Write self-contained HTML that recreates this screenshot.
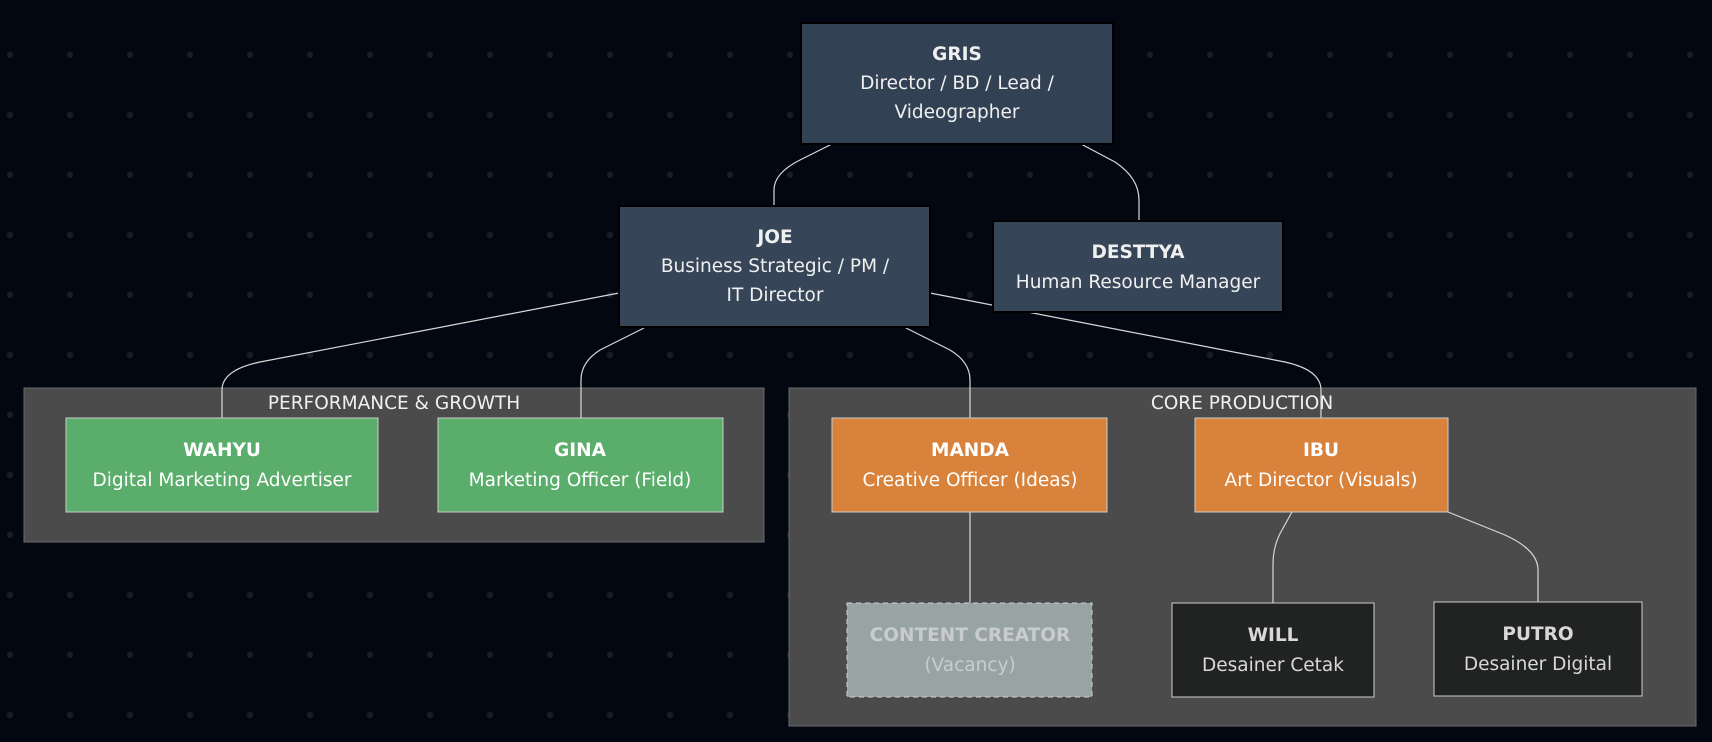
<!DOCTYPE html>
<html><head><meta charset="utf-8"><style>
html,body{margin:0;padding:0;background:#030712;}
svg{display:block}
text{font-family:"DejaVu Sans","Liberation Sans",sans-serif;font-size:18.5px;text-anchor:middle;}
.b{font-weight:bold}
</style></head><body>
<svg width="1712" height="742" viewBox="0 0 1712 742" xmlns="http://www.w3.org/2000/svg">
<defs><pattern id="d" x="0" y="0" width="60" height="60" patternUnits="userSpaceOnUse"><circle cx="10" cy="55" r="3.2" fill="#1a1d27"/></pattern></defs>
<rect width="1712" height="742" fill="#030712"/>
<rect width="1712" height="742" fill="url(#d)"/>
<rect x="24" y="388" width="740" height="154" fill="#4a4b4a" stroke="#6a6a6a"/>
<text x="394" y="409" fill="#f0f0f0">PERFORMANCE &amp; GROWTH</text>
<rect x="789" y="388" width="907" height="338" fill="#4a4b4a" stroke="#6a6a6a"/>
<text x="1242" y="409" fill="#f0f0f0">CORE PRODUCTION</text>
<g fill="none" stroke="#d8d8d8" stroke-width="1.2">
<path d="M832,144 L800,160 Q774,173 774,190 L774,206"/>
<path d="M1081,144 L1115,162 Q1139,178 1139,200 L1139,221"/>
<path d="M619,293 L260,362 Q222,370 222,390 L222,418"/>
<path d="M644,328 L600,350 Q581,362 581,380 L581,418"/>
<path d="M906,328 L950,350 Q970,362 970,380 L970,418"/>
<path d="M930,293 L1285,362 Q1321,370 1321,390 L1321,418"/>
<path d="M970,512 L970,603"/>
<path d="M1292,512 L1282,530 Q1273,545 1273,565 L1273,603"/>
<path d="M1448,512 L1505,535 Q1538,550 1538,570 L1538,603"/>
</g>
<rect x="801" y="23" width="312" height="121" fill="#334155" stroke="#000" stroke-width="2"/>
<text x="957" y="60" fill="#f0f0f0" class="b">GRIS</text>
<text x="957" y="89" fill="#f0f0f0">Director / BD / Lead /</text>
<text x="957" y="118" fill="#f0f0f0">Videographer</text>
<rect x="619" y="206" width="311" height="121" fill="#374558" stroke="#000" stroke-width="2"/>
<text x="775" y="243" fill="#f0f0f0" class="b">JOE</text>
<text x="775" y="272" fill="#f0f0f0">Business Strategic / PM /</text>
<text x="775" y="301" fill="#f0f0f0">IT Director</text>
<rect x="993" y="221" width="290" height="91" fill="#374558" stroke="#000" stroke-width="2"/>
<text x="1138" y="258" fill="#f0f0f0" class="b">DESTTYA</text>
<text x="1138" y="288" fill="#f0f0f0">Human Resource Manager</text>
<rect x="66" y="418" width="312" height="94" fill="#5aad6a" stroke="#ccc"/>
<text x="222" y="456" fill="#fff" class="b">WAHYU</text>
<text x="222" y="486" fill="#fff">Digital Marketing Advertiser</text>
<rect x="438" y="418" width="285" height="94" fill="#5aad6a" stroke="#ccc"/>
<text x="580" y="456" fill="#fff" class="b">GINA</text>
<text x="580" y="486" fill="#fff">Marketing Officer (Field)</text>
<rect x="832" y="418" width="275" height="94" fill="#d9823b" stroke="#ccc"/>
<text x="970" y="456" fill="#fff" class="b">MANDA</text>
<text x="970" y="486" fill="#fff">Creative Officer (Ideas)</text>
<rect x="1195" y="418" width="253" height="94" fill="#d9823b" stroke="#ccc"/>
<text x="1321" y="456" fill="#fff" class="b">IBU</text>
<text x="1321" y="486" fill="#fff">Art Director (Visuals)</text>
<rect x="847" y="603" width="245" height="94" fill="#98a4a4" stroke="#d0d0d0" stroke-dasharray="5,4"/>
<text x="970" y="641" fill="#c8cccc" class="b">CONTENT CREATOR</text>
<text x="970" y="671" fill="#c8cccc">(Vacancy)</text>
<rect x="1172" y="603" width="202" height="94" fill="#212322" stroke="#ccc"/>
<text x="1273" y="641" fill="#d8d8d8" class="b">WILL</text>
<text x="1273" y="671" fill="#d8d8d8">Desainer Cetak</text>
<rect x="1434" y="602" width="208" height="94" fill="#212322" stroke="#ccc"/>
<text x="1538" y="640" fill="#d8d8d8" class="b">PUTRO</text>
<text x="1538" y="670" fill="#d8d8d8">Desainer Digital</text>
</svg>
</body></html>
